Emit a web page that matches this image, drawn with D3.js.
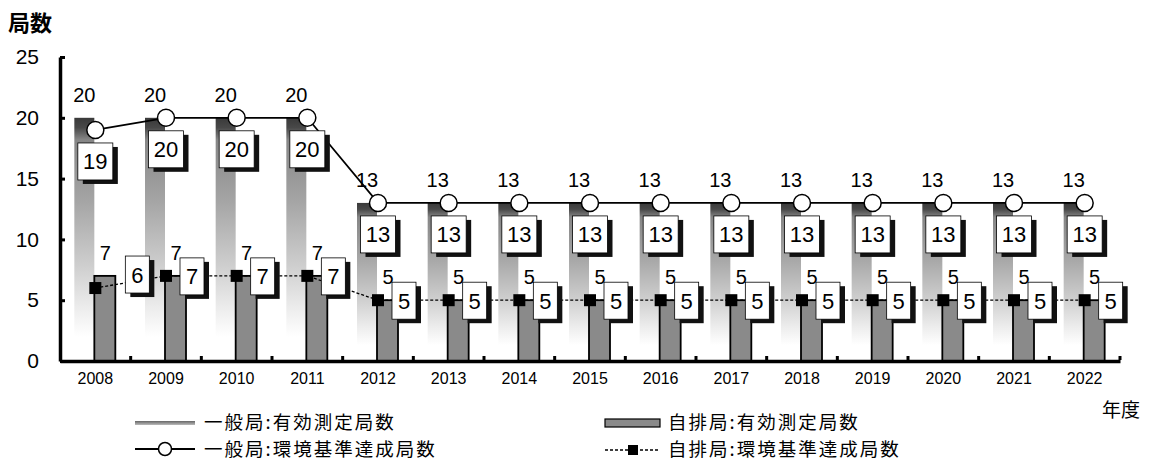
<!DOCTYPE html>
<html>
<head>
<meta charset="utf-8">
<script src="https://cdn.jsdelivr.net/npm/d3@7"></script>
<style>
  body { margin: 0; background: #fff; }
  svg { display: block; }
  text { font-family: "Liberation Sans", Arial, sans-serif; fill: #000; }
  .jp, .jp text { font-family: "Noto Sans CJK JP", sans-serif; }
</style>
</head>
<body>
<svg id="chart" width="1150" height="461"></svg>
<script>
// data
var years = ["2008","2009","2010","2011","2012","2013","2014","2015","2016","2017","2018","2019","2020","2021","2022"];
var ippanValid   = [20,20,20,20,13,13,13,13,13,13,13,13,13,13,13]; // 一般局:有効測定局数
var ippanAchieve = [19,20,20,20,13,13,13,13,13,13,13,13,13,13,13]; // 一般局:環境基準達成局数
var jihaiValid   = [7,7,7,7,5,5,5,5,5,5,5,5,5,5,5];               // 自排局:有効測定局数
var jihaiAchieve = [6,7,7,7,5,5,5,5,5,5,5,5,5,5,5];               // 自排局:環境基準達成局数
var yTicks = [0,5,10,15,20,25];

var svg = d3.select('#chart');

var x = d3.scaleBand().domain(years).range([60, 1120]).padding(0);
var y = d3.scaleLinear().domain([0, 25]).range([361, 57]);
var cx = function(i) { return x(years[i]) + x.bandwidth() / 2; };

// gradient for 一般局 bars
var defs = svg.append('defs');
var grad = defs.append('linearGradient').attr('id', 'ippanGrad')
  .attr('x1', 0).attr('y1', 0).attr('x2', 0).attr('y2', 1);
[[0, '#3a3a3a'], [0.04, '#484848'], [0.09, '#868686'], [0.35, '#a6a6a6'], [0.6, '#cdcdcd'], [0.78, '#ececec'], [0.9, '#fff'], [1, '#fff']]
  .forEach(function(s) { grad.append('stop').attr('offset', s[0]).attr('stop-color', s[1]); });
var lgrad = defs.append('linearGradient').attr('id', 'legGrad')
  .attr('x1', 0).attr('y1', 0).attr('x2', 0).attr('y2', 1);
[[0, '#666'], [1, '#bbb']].forEach(function(s) { lgrad.append('stop').attr('offset', s[0]).attr('stop-color', s[1]); });

// 一般局 bars
svg.selectAll('.ippan').data(ippanValid).enter().append('rect')
  .attr('class', 'ippan')
  .attr('x', function(d, i) { return cx(i) - 21; })
  .attr('y', function(d) { return y(d); })
  .attr('width', 20)
  .attr('height', function(d) { return y(0) - y(d); })
  .attr('fill', 'url(#ippanGrad)');

// 自排局 bars
svg.selectAll('.jihai').data(jihaiValid).enter().append('rect')
  .attr('class', 'jihai')
  .attr('x', function(d, i) { return cx(i) - 1; })
  .attr('y', function(d) { return y(d); })
  .attr('width', 21)
  .attr('height', function(d) { return y(0) - y(d); })
  .attr('fill', '#8a8a8a')
  .attr('stroke', '#000')
  .attr('stroke-width', 1.8);

// axes
var yAxis = svg.append('g').attr('transform', 'translate(60,0)')
  .call(d3.axisLeft(y).tickValues(yTicks).tickSize(-5).tickSizeOuter(0).tickPadding(21));
yAxis.select('.domain').attr('stroke-width', 3.5);
yAxis.selectAll('.tick line').attr('stroke-width', 3);
yAxis.selectAll('text').style('font-size', '21px').attr('font-family', null);

var xAxis = svg.append('g').attr('transform', 'translate(0,361)')
  .call(d3.axisBottom(x).tickSize(0).tickPadding(12));
xAxis.select('.domain').attr('stroke-width', 3.5);
xAxis.selectAll('text').style('font-size', '16px').attr('font-family', null);

// little tick marks at category boundaries
svg.selectAll('.bt').data(years).enter().append('rect')
  .attr('x', function(d) { return x(d) + x.bandwidth() - 1.5; })
  .attr('y', 356).attr('width', 3).attr('height', 4).attr('fill', '#000');

// 自排局 achievement dashed line
var line = d3.line().x(function(d, i) { return cx(i); }).y(function(d) { return y(d); });
svg.append('path').attr('d', line(jihaiAchieve))
  .attr('fill', 'none').attr('stroke', '#000').attr('stroke-width', 1.3).attr('stroke-dasharray', '3,2');

// 一般局 achievement solid line
svg.append('path').attr('d', line(ippanAchieve))
  .attr('fill', 'none').attr('stroke', '#000').attr('stroke-width', 1.8);

// square markers
svg.selectAll('.sq').data(jihaiAchieve).enter().append('rect')
  .attr('x', function(d, i) { return cx(i) - 6; })
  .attr('y', function(d) { return y(d) - 6; })
  .attr('width', 12).attr('height', 12).attr('fill', '#000');

// circle markers
svg.selectAll('.ci').data(ippanAchieve).enter().append('circle')
  .attr('cx', function(d, i) { return cx(i); })
  .attr('cy', function(d) { return y(d); })
  .attr('r', 8.5)
  .attr('fill', '#fff').attr('stroke', '#000').attr('stroke-width', 1.5);

// value labels above bars
svg.selectAll('.lv1').data(ippanValid).enter().append('text')
  .attr('x', function(d, i) { return cx(i) - 11; })
  .attr('y', function(d) { return y(d) - 16; })
  .attr('text-anchor', 'middle').style('font-size', '20px')
  .text(function(d) { return d; });
svg.selectAll('.lv2').data(jihaiValid).enter().append('text')
  .attr('x', function(d, i) { return cx(i) + 10; })
  .attr('y', function(d) { return y(d) - 16; })
  .attr('text-anchor', 'middle').style('font-size', '20px')
  .text(function(d) { return d; });

// boxed labels with shadow
function boxLabel(bx, by, w, h, txt) {
  var g = svg.append('g');
  g.append('rect').attr('x', bx + 5).attr('y', by + 4).attr('width', w).attr('height', h).attr('fill', '#111');
  g.append('rect').attr('x', bx).attr('y', by).attr('width', w).attr('height', h)
    .attr('fill', '#fff').attr('stroke', '#000').attr('stroke-width', 0.8);
  g.append('text').attr('x', bx + w / 2).attr('y', by + h / 2 + 8)
    .attr('text-anchor', 'middle').style('font-size', '22px').text(txt);
}
ippanAchieve.forEach(function(d, i) {
  boxLabel(cx(i) - 17.5, y(d) + 13, 35, 37, d);
});
jihaiAchieve.forEach(function(d, i) {
  var dx = 14, dy = -18;
  if (i === 0) { dx = 30; dy = -32; } // first one sits further out in the original
  boxLabel(cx(i) + dx, y(d) + dy, 24, 37, d);
});

// axis titles
svg.append('text').attr('class', 'jp').attr('x', 8).attr('y', 31)
  .style('font-size', '22px').style('font-weight', 'bold').text('局数');
svg.append('text').attr('class', 'jp').attr('x', 1102).attr('y', 417)
  .style('font-size', '19px').text('年度');

// legend
var leg = svg.append('g').attr('class', 'jp');
var legFont = '18.5px', legSpace = '2px';
leg.append('rect').attr('x', 135).attr('y', 421).attr('width', 60).attr('height', 4).attr('fill', 'url(#legGrad)');
leg.append('text').attr('x', 204).attr('y', 429).style('font-size', legFont).style('letter-spacing', legSpace).text('一般局:有効測定局数');
leg.append('line').attr('x1', 135).attr('x2', 195).attr('y1', 449).attr('y2', 449).attr('stroke', '#000').attr('stroke-width', 1.8);
leg.append('circle').attr('cx', 165).attr('cy', 449).attr('r', 6.5).attr('fill', '#fff').attr('stroke', '#000').attr('stroke-width', 1.5);
leg.append('text').attr('x', 204).attr('y', 456).style('font-size', legFont).style('letter-spacing', legSpace).text('一般局:環境基準達成局数');

leg.append('rect').attr('x', 605).attr('y', 419).attr('width', 55).attr('height', 8).attr('fill', '#8a8a8a').attr('stroke', '#000').attr('stroke-width', 1.2);
leg.append('text').attr('x', 668).attr('y', 429).style('font-size', legFont).style('letter-spacing', legSpace).text('自排局:有効測定局数');
leg.append('line').attr('x1', 605).attr('x2', 660).attr('y1', 450).attr('y2', 450).attr('stroke', '#000').attr('stroke-width', 1.3).attr('stroke-dasharray', '3,2');
leg.append('rect').attr('x', 628).attr('y', 445).attr('width', 10).attr('height', 10).attr('fill', '#000');
leg.append('text').attr('x', 668).attr('y', 456).style('font-size', legFont).style('letter-spacing', legSpace).text('自排局:環境基準達成局数');
</script>
</body>
</html>
